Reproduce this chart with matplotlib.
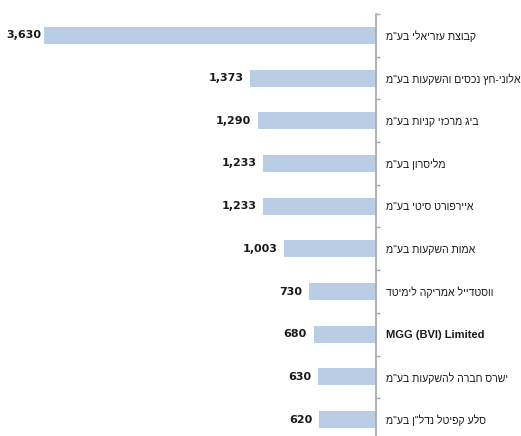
import matplotlib
matplotlib.use("Agg")
import matplotlib.pyplot as plt
import numpy as np

# companies (logical Hebrew order) and values
companies = [
    'קבוצת עזריאלי בע"מ',
    'אלוני-חץ נכסים והשקעות בע"מ',
    'ביג מרכזי קניות בע"מ',
    'מליסרון בע"מ',
    'איירפורט סיטי בע"מ',
    'אמות השקעות בע"מ',
    'ווסטדייל אמריקה לימיטד',
    'MGG (BVI) Limited',
    'ישרס חברה להשקעות בע"מ',
    'סלע קפיטל נדל"ן בע"מ',
]
values = [3630, 1373, 1290, 1233, 1233, 1003, 730, 680, 630, 620]


def visual(s):
    """matplotlib draws left-to-right, so flip Hebrew strings for display."""
    if any("\u0590" <= c <= "\u05ff" for c in s):
        return s[::-1]
    return s


BAR_COLOR = "#B9CDE5"
AXIS_COLOR = "#A6A6A6"

fig = plt.figure(figsize=(5.21, 4.36), dpi=100)
# right edge of axes = zero line at x=376px, top boundary at y=14px
ax = fig.add_axes([11 / 521, -5 / 436, (376 - 11) / 521, 427 / 436])

n = len(values)
y = np.arange(n)
ax.barh(y, values, height=0.4, color=BAR_COLOR)
ax.set_xlim(3990, 0)
ax.set_ylim(n - 0.5, -0.5)

for yi, v in zip(y, values):
    off = -2 if v == max(values) else -5
    ax.annotate(f"{v:,}", (v, yi), xytext=(off, 0), textcoords="offset points",
                ha="right", va="center", fontsize=8, fontweight="bold",
                color="#1a1a1a", family=["DejaVu Sans"])

for s in ("left", "top", "bottom"):
    ax.spines[s].set_visible(False)
ax.spines["right"].set_color(AXIS_COLOR)
ax.spines["right"].set_linewidth(1.2)

ax.set_xticks([])
ax.yaxis.tick_right()
ax.set_yticks(y)
ax.set_yticklabels([visual(c) for c in companies])
for lbl, name in zip(ax.get_yticklabels(), companies):
    lbl.set_family(["Liberation Sans", "DejaVu Sans"])
    lbl.set_fontsize(7.6)
    lbl.set_color("#1a1a1a")
    if name.isascii():
        lbl.set_fontweight("bold")
        lbl.set_fontsize(8)
ax.tick_params(axis="y", which="major", length=0, pad=7)
ax.set_yticks(np.arange(n + 1) - 0.5, minor=True)
ax.tick_params(axis="y", which="minor", length=3, width=1.0,
               color=AXIS_COLOR, direction="out", right=True, left=False)

fig.savefig("out.png", dpi=100)
